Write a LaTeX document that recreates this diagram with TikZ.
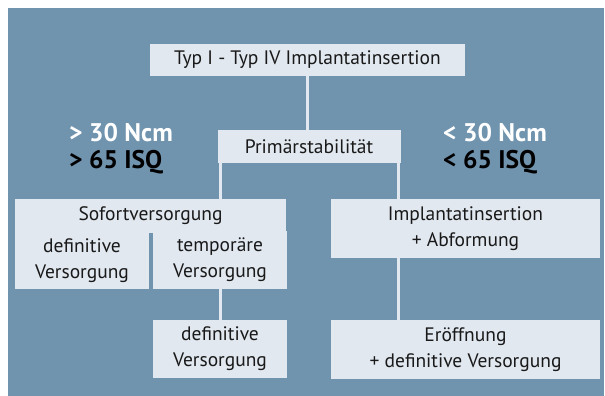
\documentclass[tikz,border=0pt]{standalone}
\usepackage{fontspec}
\setmainfont{PT Sans}
\usepackage{tikz}
\definecolor{bgblue}{HTML}{7093AE}
\definecolor{boxfill}{HTML}{E1E8F0}

\begin{document}
\begin{tikzpicture}[x=1pt,y=1pt,
		box/.style={fill=boxfill,inner sep=0pt,align=center,text=black!90,
			font=\fontsize{19.5}{26}\selectfont},
		link/.style={draw=boxfill,line width=3pt},
		crit/.style={anchor=west,inner sep=0pt,font=\fontsize{25.5}{28}\selectfont\bfseries}]
		% background panel
		\useasboundingbox (0,0) rectangle (605,396);
		\fill[bgblue] (8,0) rectangle (604,388);
		% boxes
		\node[box,minimum width=315pt,minimum height=32pt] (top) at (307.5,336) {Typ I - Typ IV Implantatinsertion};
		\node[box,minimum width=183pt,minimum height=33pt] (prim) at (309,249.5) {Primärstabilität};
		\node[box,minimum width=271pt,minimum height=34pt] (sofort) at (150.5,180) {Sofortversorgung};
		\node[box,minimum width=134pt,minimum height=56pt] (defl) at (82,135) {definitive\\Versorgung};
		\node[box,minimum width=134pt,minimum height=58pt] (temp) at (220,136) {temporäre\\Versorgung};
		\node[box,minimum width=134pt,minimum height=58pt] (defr) at (220,47) {definitive\\Versorgung};
		\node[box,minimum width=269pt,minimum height=59pt] (impl) at (465.5,167.5) {Implantatinsertion\\+ Abformung};
		\node[box,minimum width=269pt,minimum height=59pt] (eroff) at (465.5,46.5) {Eröffnung\\+ definitive Versorgung};
		% connectors
		\coordinate (rline) at (398.5,0);
		\draw[link] (top.south) -- (top.south |- prim.north);
		\draw[link] (prim.south -| temp) -- (sofort.north -| temp);
		\draw[link] (temp.south) -- (defr.north);
		\draw[link] (prim.south -| rline) -- (impl.north -| rline);
		\draw[link] (impl.south -| rline) -- (eroff.north -| rline);
		% thresholds
		\node[crit,text=white] (ncmhi) at (69,263) {> 30 Ncm};
		\node[crit,text=black] (isqhi) at (69,234) {> 65 ISQ};
		\node[crit,text=white] (ncmlo) at (443,263) {< 30 Ncm};
		\node[crit,text=black] (isqlo) at (443,234) {< 65 ISQ};
	\end{tikzpicture}
\end{document}
